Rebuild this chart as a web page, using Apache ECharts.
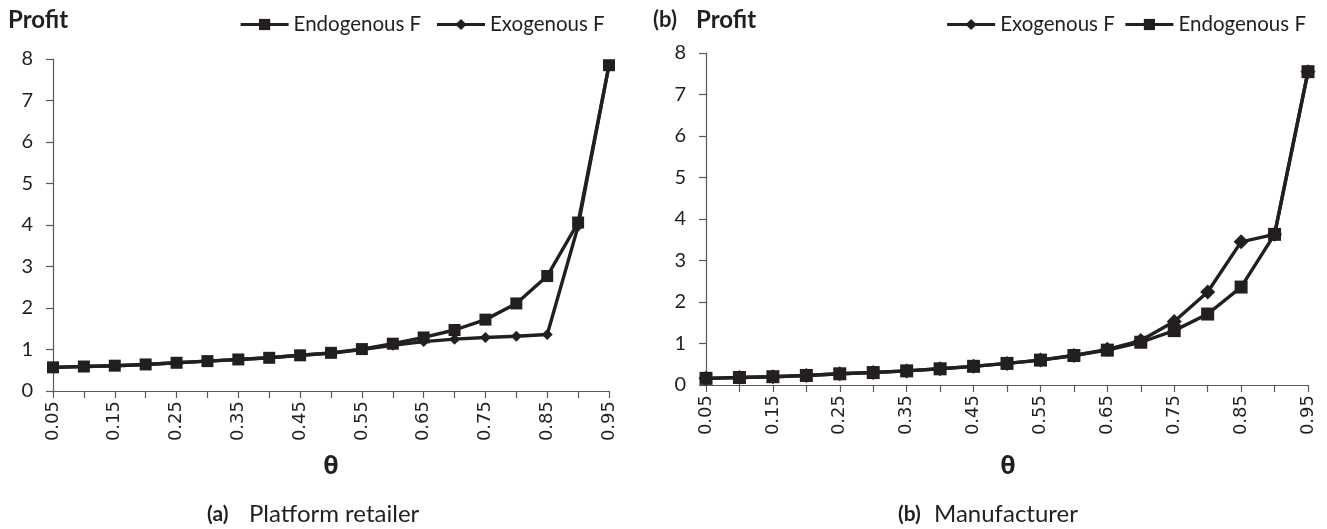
<!DOCTYPE html>
<html>
<head>
<meta charset="utf-8">
<script src="https://cdn.jsdelivr.net/npm/echarts@6/dist/echarts.min.js"></script>
<style>
html,body{margin:0;padding:0;background:#fff;}
#chart{width:1327px;height:529px;}
</style>
</head>
<body>
<div id="chart"></div>
<script>
const thetaCategories = ['0.05','0.10','0.15','0.20','0.25','0.30','0.35','0.40','0.45','0.50','0.55','0.60','0.65','0.70','0.75','0.80','0.85','0.90','0.95'];
const thetaLabels = ['0.05','0.1','0.15','0.2','0.25','0.3','0.35','0.4','0.45','0.5','0.55','0.6','0.65','0.7','0.75','0.8','0.85','0.9','0.95'];
const retailerEndogenous = [0.57,0.59,0.61,0.64,0.68,0.72,0.76,0.80,0.86,0.92,1.01,1.14,1.29,1.47,1.72,2.11,2.77,4.06,7.85];
const retailerExogenous  = [0.57,0.59,0.61,0.64,0.68,0.72,0.76,0.80,0.86,0.91,1.00,1.10,1.19,1.25,1.29,1.32,1.36,3.97,7.85];
const manufacturerExogenous  = [0.16,0.18,0.20,0.23,0.27,0.30,0.34,0.39,0.45,0.52,0.60,0.71,0.86,1.07,1.53,2.24,3.45,3.63,7.55];
const manufacturerEndogenous = [0.16,0.18,0.20,0.23,0.27,0.30,0.34,0.39,0.45,0.52,0.60,0.71,0.84,1.03,1.31,1.71,2.36,3.63,7.55];
const yTicks = [0,1,2,3,4,5,6,7,8];

const ink = '#231f20';
const axisGray = '#595959';
const chart = echarts.init(document.getElementById('chart'), null, {renderer:'canvas'});

function xAxisFor(gridIndex){
  return {
    type:'category', gridIndex, data: thetaCategories, boundaryGap:false,
    axisLine:{lineStyle:{color:axisGray,width:1.2}},
    axisTick:{show:true, interval:0, length:7, lineStyle:{color:axisGray,width:1.2}},
    axisLabel:{interval:1, rotate:90, margin:10, color:ink, fontFamily:'DejaVu Sans', fontSize:18,
      formatter:(v,i)=>thetaLabels[i]}
  };
}
function yAxisFor(gridIndex){
  return {
    type:'value', gridIndex, min:yTicks[0], max:yTicks[yTicks.length-1], interval:1,
    splitLine:{show:false},
    axisLine:{show:true, lineStyle:{color:axisGray,width:1.2}},
    axisTick:{show:true, length:7, lineStyle:{color:axisGray,width:1.2}},
    axisLabel:{color:ink, fontFamily:'Lato', fontSize:20, margin:20}
  };
}
function lineSeries(name, data, symbol, size, xi){
  return {
    name, type:'line', xAxisIndex:xi, yAxisIndex:xi, data,
    symbol, symbolSize:size, showAllSymbol:true,
    lineStyle:{color:ink,width:3.4}, itemStyle:{color:ink},
    emphasis:{disabled:true}, animation:false
  };
}
const legendText = {fontFamily:'Lato', fontSize:20.5, color:ink};
const legendBase = {top:9, itemWidth:48, itemHeight:14, itemGap:9, textStyle:legendText, selectedMode:false,
  lineStyle:{width:3.2, color:ink}, itemStyle:{color:ink}};

const option = {
  animation:false,
  textStyle:{fontFamily:'Lato'},
  grid:[
    {left:53, right:1327-609, top:59, bottom:529-391},
    {left:706, right:1327-1308, top:53, bottom:529-385}
  ],
  xAxis:[xAxisFor(0), xAxisFor(1)],
  yAxis:[yAxisFor(0), yAxisFor(1)],
  legend:[
    Object.assign({data:['Endogenous F ','Exogenous F '], left:234}, legendBase),
    Object.assign({data:['Exogenous F','Endogenous F'], right:16}, legendBase)
  ],
  series:[
    lineSeries('Endogenous F ', retailerEndogenous, 'rect', 12, 0),
    lineSeries('Exogenous F ', retailerExogenous, 'diamond', 11, 0),
    lineSeries('Endogenous F', manufacturerEndogenous, 'rect', 13, 1),
    lineSeries('Exogenous F', manufacturerExogenous, 'diamond', 15, 1)
  ],
  graphic:[
    {type:'text', x:8, y:20, style:{text:'Profit', font:'bold 24px Lato', fill:ink, textVerticalAlign:'middle'}},
    {type:'text', x:653, y:20, style:{text:'(b)', font:'bold 22px Lato', fill:ink, textVerticalAlign:'middle'}},
    {type:'text', x:696, y:20, style:{text:'Profit', font:'bold 24px Lato', fill:ink, textVerticalAlign:'middle'}},
    {type:'text', x:331, y:467, style:{text:'θ', font:'bold 25px "Open Sans"', fill:ink, textAlign:'center', textVerticalAlign:'middle'}},
    {type:'text', x:1008, y:467, style:{text:'θ', font:'bold 25px "Open Sans"', fill:ink, textAlign:'center', textVerticalAlign:'middle'}},
    {type:'text', x:207, y:514, style:{text:'(a)', font:'bold 21px Lato', fill:ink, textVerticalAlign:'middle'}},
    {type:'text', x:249, y:514, style:{text:'Platform retailer', font:'24px Lato', fill:ink, textVerticalAlign:'middle'}},
    {type:'text', x:898, y:514, style:{text:'(b)', font:'bold 21px Lato', fill:ink, textVerticalAlign:'middle'}},
    {type:'text', x:934, y:514, style:{text:'Manufacturer', font:'24px Lato', fill:ink, textVerticalAlign:'middle'}}
  ]
};
chart.setOption(option);
</script>
</body>
</html>
